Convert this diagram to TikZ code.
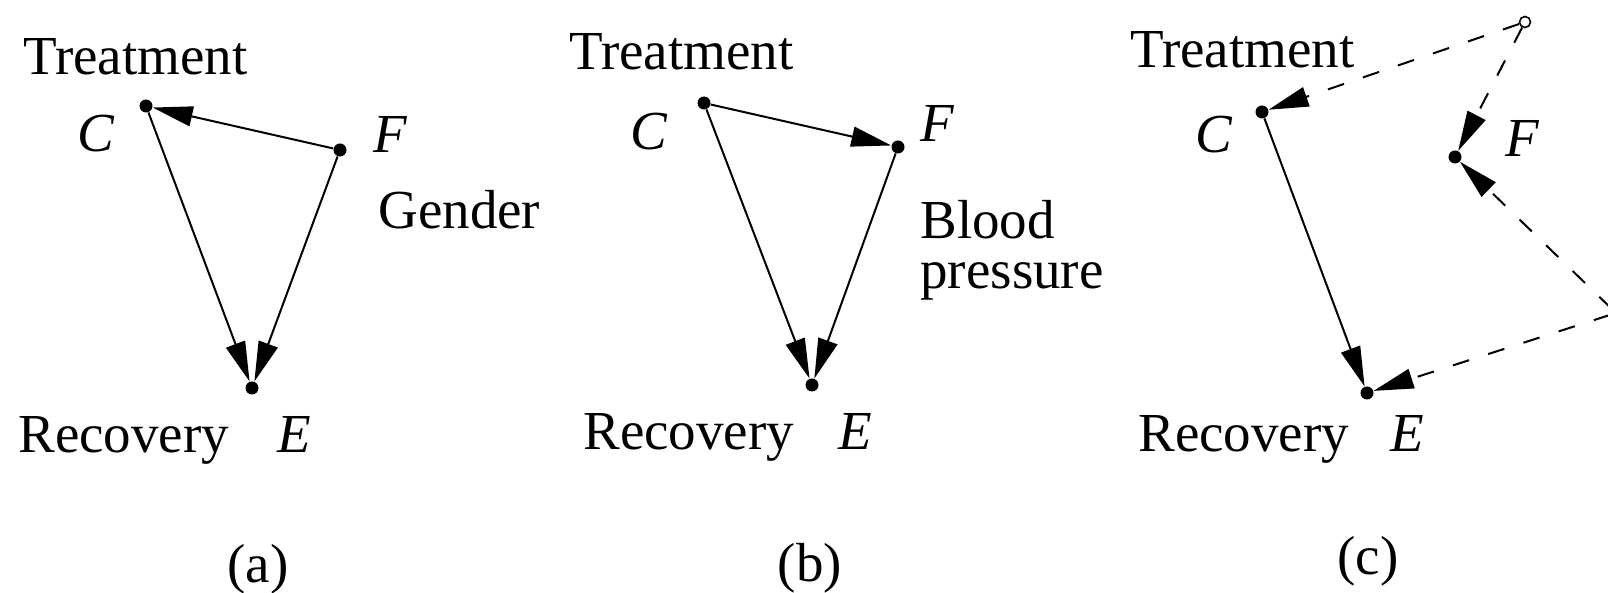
\documentclass[tikz,border=0pt]{standalone}
\usepackage{fontspec}
\setmainfont{Liberation Serif}
\usetikzlibrary{arrows.meta}

\begin{document}
\begin{tikzpicture}[
    x=0.5pt, y=0.5pt,
    dot/.style={circle, fill=black, inner sep=0pt, minimum size=6.5pt},
    hid/.style={circle, draw=black, fill=white, line width=0.8pt,
                inner sep=0pt, minimum size=5.5pt},
    lbl/.style={font=\fontsize{27.5}{25}\selectfont, inner sep=0pt,
                anchor=base west, align=left},
    var/.style={lbl, font=\fontsize{27.5}{25}\selectfont\itshape},
    capt/.style={lbl, anchor=base},
    arr/.style={-{Triangle[length=20pt, width=10pt]}, line width=1pt},
    darr/.style={arr, dash pattern=on 8.5pt off 10pt}
]
\useasboundingbox (0,0) rectangle (1608,593);

% (a) gender
\node[dot] (ca) at (146,487) {};
\node[dot] (fa) at (340,443) {};
\node[dot] (ea) at (252,205) {};
\node[lbl] at (23,518)  {Treatment};
\node[var] at (77,441)  {C};
\node[var] at (373,440) {F};
\node[lbl] at (378,364) {Gender};
\node[lbl] at (18,140)  {Recovery};
\node[var] at (277,140) {E};
\node[capt] at (258,10) {(a)};

\draw[arr] (fa) -- (ca);
\draw[arr] (ca) -- (ea);
\draw[arr] (fa) -- (ea);

% (b) blood pressure
\node[dot] (cb) at (704,490) {};
\node[dot] (fb) at (898,446) {};
\node[dot] (eb) at (812,208) {};
\node[lbl] at (569,523) {Treatment};
\node[var] at (630,443) {C};
\node[var] at (920,451) {F};
\node[lbl] at (920,304) {Blood\\pressure};
\node[lbl] at (583,143) {Recovery};
\node[var] at (838,143) {E};
\node[capt] at (810,11) {(b)};

\draw[arr] (cb) -- (fb);
\draw[arr] (cb) -- (eb);
\draw[arr] (fb) -- (eb);

% (c) hidden causes
\node[dot] (cc) at (1262,481) {};
\node[dot] (fc) at (1455,436) {};
\node[dot] (ec) at (1367,200) {};
\node[hid] (ua) at (1525,571) {};
\node[hid] (ub) at (1616,280) {};
\node[lbl] at (1130,525) {Treatment};
\node[var] at (1195,440) {C};
\node[var] at (1505,436) {F};
\node[lbl] at (1138,141) {Recovery};
\node[var] at (1390,141) {E};
\node[capt] at (1368,18) {(c)};

\draw[arr]  (cc) -- (ec);
\draw[darr] (ua) -- (cc);
\draw[darr] (ua) -- (fc);
\draw[darr] (ub) -- (fc);
\draw[darr] (ub) -- (ec);
\end{tikzpicture}
\end{document}
